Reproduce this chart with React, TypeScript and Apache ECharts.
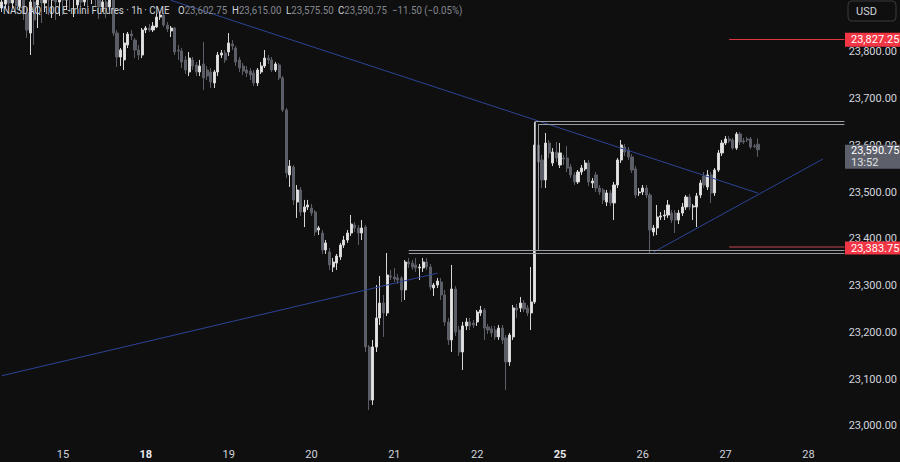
import React, { useEffect, useRef } from 'react';
import * as echarts from 'echarts';

// ---- x axis (1h bars, 23 per session) ----
const dayLabels = ['15', '18', '19', '20', '21', '22', '25', '26', '27', '28'];
const boldDays = ['18', '25'];
const barsPerDay = 23;
const firstDayIndex = 17;
const categoryCount = 235;

// ---- price axis range ----
const priceMin = 22970;
const priceMax = 23911.2;
const priceStep = 100;

// ---- OHLC ----
const opens = [
  23894, 23902.5, 23915.5, 23904.75, 23915.5, 23898.5, 23911.25, 23881.25, 23840.5, 23907,
  23900.5, 23917.5, 23904.75, 23924, 23911.25, 23919.75, 23907, 23922, 23911.25, 23924,
  23913.5, 23900.5, 23915.5, 23907, 23924, 23915.5, 23928.25, 23911.25, 23896.25, 23907,
  23896.25, 23911.25, 23840.5, 23789.25, 23783, 23815, 23838.5, 23825.5, 23804.25, 23793.5,
  23847, 23851.25, 23847, 23853.5, 23874.75, 23879, 23857.75, 23845, 23851.25, 23804.25,
  23802, 23783, 23757.25, 23783, 23772.25, 23757.25, 23774.25, 23761.5, 23757.25, 23733.75,
  23757.25, 23793.5, 23797.75, 23800, 23817, 23808.5, 23783, 23770, 23761.5, 23759.25,
  23755, 23733.75, 23757.25, 23770, 23787, 23783, 23761.5, 23772.25, 23744.5, 23676,
  23537, 23554, 23479, 23504.75, 23457.75, 23468.5, 23466.25, 23457.75, 23419.25, 23412.75,
  23376.5, 23372.25, 23340, 23348.5, 23361.5, 23387, 23397.75, 23412.75, 23430, 23423.5,
  23412.75, 23425.5, 23169, 23055.5, 23169, 23231, 23263, 23241.75, 23320.75, 23318.75,
  23316.5, 23316.5, 23291, 23350.75, 23348.5, 23344.5, 23338, 23338, 23350.75, 23340,
  23295.25, 23301.5, 23308, 23280.25, 23222.5, 23184, 23293, 23205.25, 23158.25, 23214,
  23222.5, 23220.25, 23222.5, 23241.75, 23248, 23211.75, 23207.5, 23205.25, 23190.5, 23209.5,
  23188.25, 23137, 23190.5, 23252.5, 23252.5, 23263, 23252.5, 23241.75, 23265.25, 23601,
  23569, 23526.25, 23605.25, 23562.5, 23586, 23558.25, 23573.25, 23573.25, 23554, 23537,
  23522, 23543.25, 23549.75, 23562.5, 23519.75, 23537, 23509, 23504.75, 23479, 23498.5,
  23477, 23515.5, 23569, 23596.75, 23590.5, 23575.5, 23549.75, 23498.5, 23500.5, 23509,
  23494, 23415, 23423.5, 23447, 23449.25, 23451.25, 23455.5, 23455.5, 23440.5, 23455.5,
  23468.5, 23489.75, 23468.5, 23468.5, 23494, 23534.75, 23511.25, 23537, 23498.5, 23547.5,
  23584, 23605.25, 23614, 23611.75, 23594.5, 23624.5, 23609.75, 23614, 23614, 23599,
  23602.75,
];
const closes = [
  23907, 23915.5, 23904.75, 23915.5, 23898.5, 23911.25, 23881.25, 23847, 23907, 23868.5,
  23922, 23904.75, 23924, 23911.25, 23919.75, 23907, 23922, 23911.25, 23924, 23913.5,
  23919.75, 23915.5, 23907, 23924, 23915.5, 23928.25, 23917.5, 23896.25, 23907, 23896.25,
  23911.25, 23840.5, 23789.25, 23804.25, 23819.25, 23838.5, 23834.25, 23804.25, 23793.5, 23847,
  23851.25, 23847, 23855.5, 23874.75, 23879, 23857.75, 23849.25, 23851.25, 23800, 23802,
  23778.5, 23761.5, 23787, 23770, 23757.25, 23770, 23744.5, 23748.5, 23735.75, 23757.25,
  23793.5, 23797.75, 23783, 23819.25, 23812.75, 23778.5, 23765.75, 23759.25, 23755, 23750.75,
  23733.75, 23761.5, 23770, 23787, 23783, 23761.5, 23774.25, 23744.5, 23676, 23541.25,
  23556, 23483.5, 23504.75, 23457.75, 23468.5, 23472.75, 23455.5, 23415, 23423.5, 23376.5,
  23391.5, 23344.5, 23350.75, 23363.5, 23387, 23397.75, 23412.75, 23432, 23423.5, 23412.75,
  23423.5, 23169, 23055.5, 23169, 23231, 23263, 23241.75, 23323, 23318.75, 23314.5,
  23312.25, 23291, 23350.75, 23346.5, 23340, 23338, 23340, 23350.75, 23340, 23297.25,
  23301.5, 23310, 23280.25, 23222.5, 23184, 23293, 23201, 23158.25, 23214, 23222.5,
  23214, 23216, 23243.75, 23248, 23209.5, 23205.25, 23199, 23190.5, 23209.5, 23184,
  23137, 23194.5, 23252.5, 23248, 23263, 23250.25, 23241.75, 23265.25, 23601, 23564.75,
  23526.25, 23605.25, 23584, 23586, 23573.25, 23584, 23571, 23551.75, 23537, 23522,
  23543.25, 23551.75, 23562.5, 23522, 23524, 23509, 23500.5, 23483.5, 23498.5, 23477,
  23515.5, 23569, 23601, 23586, 23575.5, 23547.5, 23494, 23500.5, 23509, 23494,
  23419.25, 23423.5, 23447, 23449.25, 23451.25, 23472.75, 23440.5, 23440.5, 23455.5, 23468.5,
  23489.75, 23468.5, 23470.5, 23492, 23519.75, 23515.5, 23537, 23498.5, 23547.5, 23584,
  23605.25, 23614, 23609.5, 23594.5, 23624.5, 23607.5, 23607.5, 23611.75, 23596.75, 23598,
  23590.75,
];
const lows = [
  23885.5, 23894, 23889.75, 23894, 23885.5, 23889.75, 23868.5, 23830, 23793.5, 23815,
  23851.25, 23862, 23885.5, 23879, 23872.75, 23868.5, 23877, 23879, 23889.75, 23885.5,
  23874.75, 23894, 23894, 23898.5, 23894, 23902.5, 23898.5, 23870.5, 23885.5, 23872.75,
  23889.75, 23834.25, 23768, 23770, 23761.5, 23808.5, 23825.5, 23787, 23783, 23787,
  23840.5, 23842.75, 23842.75, 23851.25, 23868.5, 23853.5, 23842.75, 23832, 23793.5, 23783,
  23765.75, 23753, 23748.5, 23761.5, 23748.5, 23748.5, 23718.75, 23740, 23723, 23723,
  23748.5, 23787, 23776.5, 23791.5, 23804.25, 23770, 23757.25, 23750.75, 23746.5, 23740,
  23727.25, 23727.25, 23753, 23765.75, 23774.25, 23757.25, 23757.25, 23740, 23671.5, 23530.5,
  23511.25, 23472.75, 23445, 23449.25, 23425.5, 23462, 23449.25, 23406.5, 23408.5, 23368,
  23368, 23333.75, 23329.5, 23333.75, 23355, 23380.75, 23391.5, 23406.5, 23415, 23387,
  23397.75, 23158.25, 23034.25, 23045, 23158.25, 23216, 23190.5, 23235.25, 23312.25, 23308,
  23303.75, 23265.25, 23269.5, 23338, 23333.75, 23329.5, 23312.25, 23329.5, 23333.75, 23291,
  23278, 23295.25, 23269.5, 23214, 23173.25, 23158.25, 23192.5, 23149.75, 23119.75, 23205.25,
  23205.25, 23209.5, 23214, 23235.25, 23184, 23196.75, 23190.5, 23184, 23184, 23175.5,
  23077, 23128.5, 23184, 23231, 23243.75, 23243.75, 23235.25, 23205.25, 23261, 23558.25,
  23509, 23509, 23573.25, 23556, 23564.75, 23551.75, 23558.25, 23543.25, 23530.5, 23515.5,
  23517.5, 23537, 23545.5, 23513.25, 23509, 23500.5, 23494, 23474.75, 23470.5, 23470.5,
  23440.5, 23509, 23562.5, 23577.5, 23569, 23541.25, 23487.5, 23492, 23494, 23487.5,
  23370, 23406.5, 23408.5, 23440.5, 23440.5, 23445, 23434.25, 23412.75, 23432, 23449.25,
  23462, 23462, 23440.5, 23425.5, 23487.5, 23509, 23504.75, 23477, 23492, 23543.25,
  23577.5, 23601, 23605.25, 23590.5, 23590.5, 23601, 23603.25, 23607.5, 23592.75, 23594.5,
  23575.5,
];
const highs = [
  23922, 23932.5, 23928.25, 23924, 23922, 23919.75, 23915.5, 23894, 23922, 23919.75,
  23932.5, 23937, 23941, 23937, 23932.5, 23932.5, 23937, 23941, 23937, 23941,
  23932.5, 23928.25, 23932.5, 23937, 23941, 23941, 23941, 23922, 23919.75, 23917.5,
  23919.75, 23917.5, 23847, 23808.5, 23840.5, 23842.75, 23847, 23830, 23815, 23851.25,
  23855.5, 23860, 23864, 23881.25, 23885.5, 23883.5, 23864, 23855.5, 23853.5, 23815,
  23808.5, 23791.5, 23800, 23789.25, 23778.5, 23783, 23821.5, 23770, 23765.75, 23761.5,
  23800, 23804.25, 23804.25, 23840.5, 23825.5, 23812.75, 23789.25, 23776.5, 23770, 23765.75,
  23761.5, 23765.75, 23778.5, 23804.25, 23793.5, 23789.25, 23778.5, 23776.5, 23748.5, 23680.25,
  23569, 23558.25, 23515.5, 23511.25, 23483.5, 23483.5, 23474.75, 23462, 23427.75, 23419.25,
  23397.75, 23380.75, 23359.25, 23368, 23391.5, 23406.5, 23419.25, 23451.25, 23436.25, 23430,
  23440.5, 23430, 23173.25, 23184, 23301.5, 23320.75, 23280.25, 23370, 23333.75, 23338,
  23325, 23320.75, 23355, 23359.25, 23355, 23359.25, 23346.5, 23359.25, 23359.25, 23346.5,
  23306, 23316.5, 23316.5, 23291, 23231, 23344.5, 23299.5, 23214, 23222.5, 23231,
  23231, 23226.75, 23248, 23256.75, 23252.5, 23218.25, 23214, 23214, 23216, 23216,
  23194.5, 23199, 23258.75, 23261, 23276, 23269.5, 23258.75, 23340, 23650.25, 23622.5,
  23579.75, 23626.75, 23611.75, 23594.5, 23607.5, 23605.25, 23579.75, 23599, 23560.5, 23543.25,
  23547.5, 23558.25, 23569, 23569, 23530.5, 23543.25, 23515.5, 23509, 23504.75, 23504.75,
  23522, 23573.25, 23611.75, 23603.25, 23596.75, 23581.75, 23556, 23509, 23515.5, 23515.5,
  23498.5, 23430, 23472.75, 23457.75, 23462, 23483.5, 23462, 23462, 23462, 23477,
  23494, 23496.25, 23474.75, 23498.5, 23526.25, 23543.25, 23547.5, 23543.25, 23551.75, 23590.5,
  23611.75, 23620.25, 23620.25, 23616, 23628.75, 23628.75, 23616, 23618.25, 23618.25, 23603.25,
  23615,
];

// ---- drawings (bar index, price) ----
const descendingLine = [[47, 23910.5], [209.5, 23498]];
const longRisingLine = [[0, 23107.5], [120.9, 23327]];
const shortRisingLine = [[180.9, 23372], [227.9, 23571]];
const rangeTopPrices = [23651, 23645.5];
const rangeTopStarts = [148.3, 149.1];
const rangeBottomPrices = [23376.5, 23369];
const rangeBottomStart = 112.9;
const alertPrices = [23827.25, 23383.75];
const alertStart = 201.9;
const paneEndIndex = 233.5;

// ---- header / tags ----
const symbolTitle = 'NASDAQ 100 E-mini Futures · 1h · CME';
const ohlcKeys = ['O', 'H', 'L', 'C'];
const ohlcValues = ['23,602.75', '23,615.00', '23,575.50', '23,590.75'];
const changeText = '\u221211.50 (\u22120.05%)';
const lastPrice = 23590.75;
const countdown = '13:52';
const currency = 'USD';

const FONT = 'Roboto, "Liberation Sans", sans-serif';

function fmt(v: number) {
  return v.toLocaleString('en-US', { minimumFractionDigits: 2, maximumFractionDigits: 2 });
}

export default function App() {
  const ref = useRef<HTMLDivElement>(null);
  useEffect(() => {
    document.body.style.margin = '0';
    document.body.style.background = '#0f0f0f';
    const chart = echarts.init(ref.current!, null, { renderer: 'svg' });
    const categories = Array.from({ length: categoryCount }, (_, i) => String(i));
    const dayAt = (i: number) => {
      const k = i - firstDayIndex;
      if (k < 0 || k % barsPerDay !== 0) return '';
      return dayLabels[k / barsPerDay] || '';
    };
    const candles = opens.map((o, i) => [o, closes[i], lows[i], highs[i]]);
    const seg = (a: number[], b: number[], color: string, width = 1) => [
      { coord: a, lineStyle: { color, width, type: 'solid' } },
      { coord: b },
    ];
    const blue = '#2c4496';
    const grey = '#9a9ca4';
    const markData: any[] = [
      seg(descendingLine[0], descendingLine[1], blue),
      seg(longRisingLine[0], longRisingLine[1], blue),
      seg(shortRisingLine[0], shortRisingLine[1], blue),
      seg([rangeTopStarts[0], rangeTopPrices[0]], [paneEndIndex, rangeTopPrices[0]], grey),
      seg([rangeTopStarts[1], rangeTopPrices[1]], [paneEndIndex, rangeTopPrices[1]], grey),
      seg([rangeTopStarts[0], rangeTopPrices[0]], [rangeTopStarts[0], rangeBottomPrices[1]], grey),
      seg([rangeTopStarts[1], rangeTopPrices[1]], [rangeTopStarts[1], rangeBottomPrices[0]], grey),
      seg([rangeBottomStart, rangeBottomPrices[0]], [paneEndIndex, rangeBottomPrices[0]], grey),
      seg([rangeBottomStart, rangeBottomPrices[1]], [paneEndIndex, rangeBottomPrices[1]], grey),
      seg([alertStart, alertPrices[0]], [paneEndIndex, alertPrices[0]], '#e0343f', 1),
      seg([alertStart, alertPrices[1]], [paneEndIndex, alertPrices[1]], '#6b2a30', 2),
    ];

    chart.setOption({
      animation: false,
      backgroundColor: '#0f0f0f',
      grid: { left: -1, right: 51.4, top: 0, bottom: 22 },
      xAxis: {
        type: 'category',
        data: categories,
        axisLine: { show: false },
        axisTick: { show: false },
        splitLine: { show: false },
        axisLabel: {
          interval: (i: number) => dayAt(i) !== '',
          formatter: (_v: string, i: number) => {
            const d = dayAt(i);
            return boldDays.includes(d) ? `{b|${d}}` : d;
          },
          color: '#d1d4dc',
          fontSize: 11,
          fontFamily: FONT,
          margin: 9,
          rich: { b: { fontWeight: 'bold', color: '#e8e9ed', fontSize: 11, fontFamily: FONT } },
        },
      },
      yAxis: {
        type: 'value',
        position: 'right',
        min: priceMin,
        max: priceMax,
        splitNumber: 10,
        minInterval: priceStep,
        maxInterval: priceStep,
        axisLine: { show: false },
        axisTick: { show: false },
        splitLine: { show: false },
        axisLabel: {
          color: '#d1d4dc',
          fontSize: 11,
          fontFamily: FONT,
          margin: 2.4,
          showMinLabel: false,
          showMaxLabel: false,
          formatter: (v: number) => (Math.abs(v / priceStep - Math.round(v / priceStep)) > 1e-6 || v > 23850 ? '' : fmt(v)),
        },
      },
      series: [
        {
          type: 'candlestick',
          data: candles,
          barWidth: 2.6,
          itemStyle: {
            color: '#e4e4e4',
            color0: '#5b5e66',
            borderColor: '#d6d6d6',
            borderColor0: '#5b5e66',
            borderWidth: 1,
          },
          markLine: {
            silent: true,
            symbol: ['none', 'none'],
            label: { show: false },
            animation: false,
            data: markData,
          },
        },
      ],
    });

    const py = (p: number) => chart.convertToPixel({ yAxisIndex: 0 }, p) as number;
    const tag = (y: number, h: number, text: string, bg: string) => [
      { type: 'rect', z: 100, shape: { x: 845, y: y - h / 2, width: 55, height: h }, style: { fill: bg } },
      {
        type: 'text', z: 101,
        style: { x: 851, y, text, fill: '#ffffff', font: `11px ${FONT}`, verticalAlign: 'middle', lineHeight: 12 },
      },
    ];
    const headerText = (x: number, text: string) => ({
      type: 'text', z: 100, x, y: 10, scaleX: 0.88,
      style: {
        x: 0, y: 0, text, verticalAlign: 'middle', font: `11px ${FONT}`,
        rich: {
          k: { fill: '#d1d4dc', fontSize: 11, fontFamily: FONT },
          v: { fill: '#85888f', fontSize: 11, fontFamily: FONT },
        },
      },
    });
    const headerX = [178, 232, 286, 338];
    const yHi = py(alertPrices[0]);
    const yLo = py(alertPrices[1]);
    const yLast = py(lastPrice);
    chart.setOption({
      graphic: [
        headerText(3, `{k|${symbolTitle}}`),
        ...ohlcKeys.map((k, i) => headerText(headerX[i], `{k|${k}}{v|${ohlcValues[i]}}`)),
        headerText(392, `{v|${changeText}}`),
        {
          type: 'rect', z: 100,
          shape: { x: 848, y: 1, width: 48, height: 20, r: 4 },
          style: { fill: '#0f0f0f', stroke: '#3a3a3a', lineWidth: 1 },
        },
        {
          type: 'text', z: 101,
          style: { x: 856, y: 11, text: currency, fill: '#d1d4dc', font: `11px ${FONT}`, verticalAlign: 'middle' },
        },
        ...tag(yHi + 0.5, 14, fmt(alertPrices[0]), '#f23645'),
        ...tag(yLo + 1.5, 13, fmt(alertPrices[1]), '#f23645'),
        { type: 'rect', z: 100, shape: { x: 845, y: yLast - 5, width: 55, height: 24 }, style: { fill: '#5d606b' } },
        {
          type: 'text', z: 101,
          style: { x: 851, y: yLast + 1, text: fmt(lastPrice), fill: '#ffffff', font: `11px ${FONT}`, verticalAlign: 'middle' },
        },
        {
          type: 'text', z: 101,
          style: { x: 851, y: yLast + 13, text: countdown, fill: '#e0e0e0', font: `11px ${FONT}`, verticalAlign: 'middle' },
        },
      ],
    });

    return () => chart.dispose();
  }, []);
  return (
    <div
      ref={ref}
      style={{ position: 'fixed', left: 0, top: 0, width: 900, height: 462, background: '#0f0f0f' }}
    />
  );
}
